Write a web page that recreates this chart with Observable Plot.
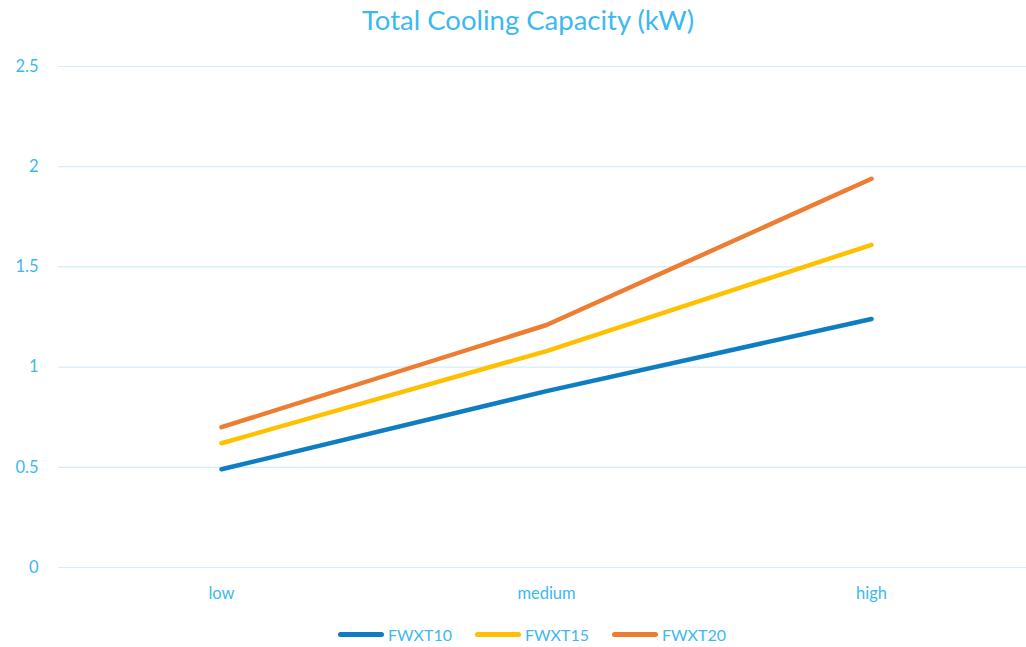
<!DOCTYPE html>
<html>
<head>
<meta charset="utf-8">
<script src="https://cdn.jsdelivr.net/npm/d3@7"></script>
<script src="https://cdn.jsdelivr.net/npm/@observablehq/plot@0.6"></script>
<style>
  html, body { margin: 0; padding: 0; background: #fff; }
  body { width: 1026px; height: 647px; overflow: hidden; font-family: Lato, "Open Sans", sans-serif; color: #3cb8f2; }
  #title { height: 40px; line-height: 40px; text-align: center; font-size: 27.5px; padding-left: 30px; }
  #legend { display: flex; justify-content: center; align-items: center; gap: 23px; font-size: 16px; margin-top: 10px; padding-left: 38px; }
  .item { display: flex; align-items: center; gap: 4px; }
  .sw { width: 46px; height: 5px; border-radius: 3px; }
</style>
</head>
<body>
<div id="title">Total Cooling Capacity (kW)</div>
<div id="chart"></div>
<div id="legend"></div>
<script>
const categories = ["low", "medium", "high"];
const seriesNames = ["FWXT10", "FWXT15", "FWXT20"];
const fwxt10 = [0.49, 0.88, 1.24];
const fwxt15 = [0.62, 1.08, 1.61];
const fwxt20 = [0.70, 1.21, 1.94];
const yTicks = [0, 0.5, 1, 1.5, 2, 2.5];
const colors = ["#0f7dc2", "#ffc000", "#ed7d31"];
const textColor = "#3cb8f2";

const seriesValues = [fwxt10, fwxt15, fwxt20];
const data = [];
seriesNames.forEach((s, i) => categories.forEach((c, j) => data.push({series: s, category: c, value: seriesValues[i][j]})));

const chart = Plot.plot({
  width: 1026,
  height: 575,
  marginTop: 26,
  marginBottom: 48,
  marginLeft: 58,
  marginRight: 0,
  style: {fontFamily: "Lato, 'Open Sans', sans-serif", fontSize: "16.5px", color: textColor, background: "transparent"},
  x: {type: "point", domain: categories, padding: 0.487, align: 0.514},
  y: {domain: [0, 2.5]},
  color: {domain: seriesNames, range: colors},
  marks: [
    Plot.gridY(yTicks, {stroke: "#d4eefb", strokeOpacity: 1, strokeWidth: 1.2}),
    Plot.axisY(yTicks, {tickSize: 0, tickPadding: 20, tickFormat: d => String(d), label: null, fill: textColor, fontSize: 16.5}),
    Plot.axisX({tickSize: 0, tickPadding: 20, label: null, fill: textColor, fontSize: 16.5}),
    Plot.line(data, {x: "category", y: "value", z: "series", stroke: "series", strokeWidth: 4.5, strokeLinecap: "round", strokeLinejoin: "round"})
  ]
});
document.getElementById("chart").appendChild(chart);

const legend = document.getElementById("legend");
seriesNames.forEach((s, i) => {
  const item = document.createElement("div");
  item.className = "item";
  const sw = document.createElement("div");
  sw.className = "sw";
  sw.style.background = colors[i];
  const t = document.createElement("span");
  t.textContent = s;
  item.appendChild(sw);
  item.appendChild(t);
  legend.appendChild(item);
});
</script>
</body>
</html>
